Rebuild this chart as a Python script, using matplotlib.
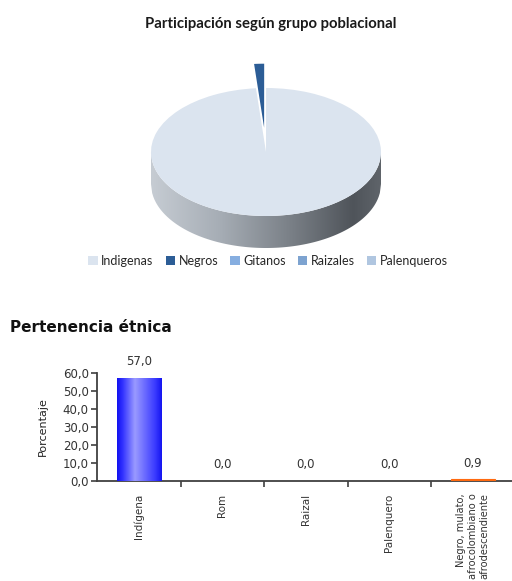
import numpy as np
import matplotlib
matplotlib.use("Agg")
import matplotlib.pyplot as plt
from matplotlib.patches import Polygon
from matplotlib.colors import LinearSegmentedColormap

# ---------------- data ----------------
groups = ['Indigenas', 'Negros', 'Gitanos', 'Raizales', 'Palenqueros']
shares = [98.6, 1.4, 0.0, 0.0, 0.0]
group_colors = ['#dbe4ef', '#2c5d96', '#86aee0', '#7da3d0', '#b0c6e0']

categories = ['Indígena', 'Rom', 'Raizal', 'Palenquero',
              'Negro, mulato,\nafrocolombiano o\nafrodescendiente']
percentages = [57.0, 0.0, 0.0, 0.0, 0.9]
y_ticks = [0, 10, 20, 30, 40, 50, 60]

W, H = 512, 581
fig = plt.figure(figsize=(W / 100, H / 100), dpi=100)
fig.patch.set_facecolor('white')


def box(l, t, r, b):
    return [l / W, 1 - b / H, (r - l) / W, (b - t) / H]


# ---------------- pie (pseudo 3D) ----------------
cx, cy, a, b = 266, 152, 115, 64
L, T, R, B = 140, 50, 392, 258
axp = fig.add_axes(box(L, T, R, B))
depth = 32 / b

# side band with gradient
xs = np.linspace(-1, 1, 200)
top_edge = -np.sqrt(1 - xs ** 2)
pts = list(zip(xs, top_edge)) + list(zip(xs[::-1], top_edge[::-1] - depth))
side = Polygon(pts, closed=True, facecolor='none', edgecolor='none')
axp.add_patch(side)
side_cmap = LinearSegmentedColormap.from_list(
    'side', [(0.0, '#c6ccd3'), (0.3, '#a6adb5'), (0.6, '#7b8188'),
             (0.88, '#4f545a'), (1.0, '#5f646a')])
grad = np.linspace(0, 1, 256).reshape(1, -1)
im = axp.imshow(grad, extent=(-1, 1, -1 - depth, 0), aspect='auto',
                cmap=side_cmap, zorder=1)
im.set_clip_path(side)

wedges, _ = axp.pie(shares, colors=group_colors, startangle=95,
                    counterclock=True, explode=[0, 0.38, 0, 0, 0],
                    radius=1, center=(0, 0),
                    wedgeprops=dict(linewidth=0, zorder=2))
for w in wedges:
    w.set_zorder(2)
axp.set_aspect('auto')
axp.set_xlim((L - cx) / a, (R - cx) / a)
axp.set_ylim(-(B - cy) / b, (cy - T) / b)
axp.axis('off')

fig.text(271 / W, 1 - 24 / H, 'Participación según grupo poblacional',
         ha='center', va='center', fontsize=10.7, fontweight='bold',
         family='Lato', color='#1a1a1a')

fig.legend(wedges, groups, loc='center', ncol=5, frameon=False,
           bbox_to_anchor=(268 / W, 1 - 261 / H),
           prop=dict(family='Lato', size=9), handlelength=0.75,
           handleheight=0.8, handletextpad=0.3, columnspacing=0.95,
           labelcolor='#262626')

# ---------------- bar chart ----------------
fig.text(10 / W, 1 - 327 / H, 'Pertenencia étnica', ha='left', va='center',
         fontsize=11, fontweight='bold', family='DejaVu Sans', color='#111111')

axb = fig.add_axes(box(97, 372.7, 514.5, 481))
x = np.arange(len(categories))
bars = axb.bar(x, percentages, width=0.53,
               color=['#3a3aff', '#3a3aff', '#3a3aff', '#3a3aff', '#ff6a10'],
               edgecolor='none', zorder=2)
bars[-1].set_edgecolor('#ff6a10')
bars[-1].set_linewidth(0.8)
bars[-1].set_zorder(3)
bar_cmap = LinearSegmentedColormap.from_list(
    'barb', [(0.0, '#1010f0'), (0.12, '#3030ff'), (0.4, '#9a9aff'),
             (0.85, '#3a3aff'), (1.0, '#1414f0')])
r0 = bars[0]
imb = axb.imshow(grad, extent=(r0.get_x(), r0.get_x() + r0.get_width(), 0,
                               r0.get_height()),
                 aspect='auto', cmap=bar_cmap, zorder=3)
imb.set_clip_path(r0)

axb.set_xlim(-0.5, len(categories) - 0.5)
axb.set_ylim(0, 60)
axb.set_yticks(y_ticks)
axb.set_yticklabels([f'{v:.1f}'.replace('.', ',') for v in y_ticks],
                    fontsize=8.5, color='#333333')
axb.set_xticks(x)
xtl = axb.set_xticklabels(categories, rotation=90, fontsize=7.5,
                          color='#333333', va='top', ha='center',
                          multialignment='right')
xtl[-1].set_fontsize(7.1)
axb.set_xticks(np.arange(0.5, len(categories) - 0.5, 1), minor=True)
axb.tick_params(axis='x', which='major', length=0, pad=9)
axb.tick_params(axis='x', which='minor', length=4, width=1.2, color='#404040')
axb.tick_params(axis='y', length=4, width=1.2, color='#404040', pad=2)
for s in ['top', 'right']:
    axb.spines[s].set_visible(False)
for s in ['left', 'bottom']:
    axb.spines[s].set_color('#404040')
    axb.spines[s].set_linewidth(1.3)
axb.set_ylabel('Porcentaje', fontsize=8, color='#222222')
axb.yaxis.set_label_coords((48 - 97) / 417.5, 0.5)
axb.bar_label(bars, labels=[f'{v:.1f}'.replace('.', ',') for v in percentages],
              padding=7, fontsize=8.5, color='#333333')

fig.savefig('out.png', dpi=100, facecolor='white')
